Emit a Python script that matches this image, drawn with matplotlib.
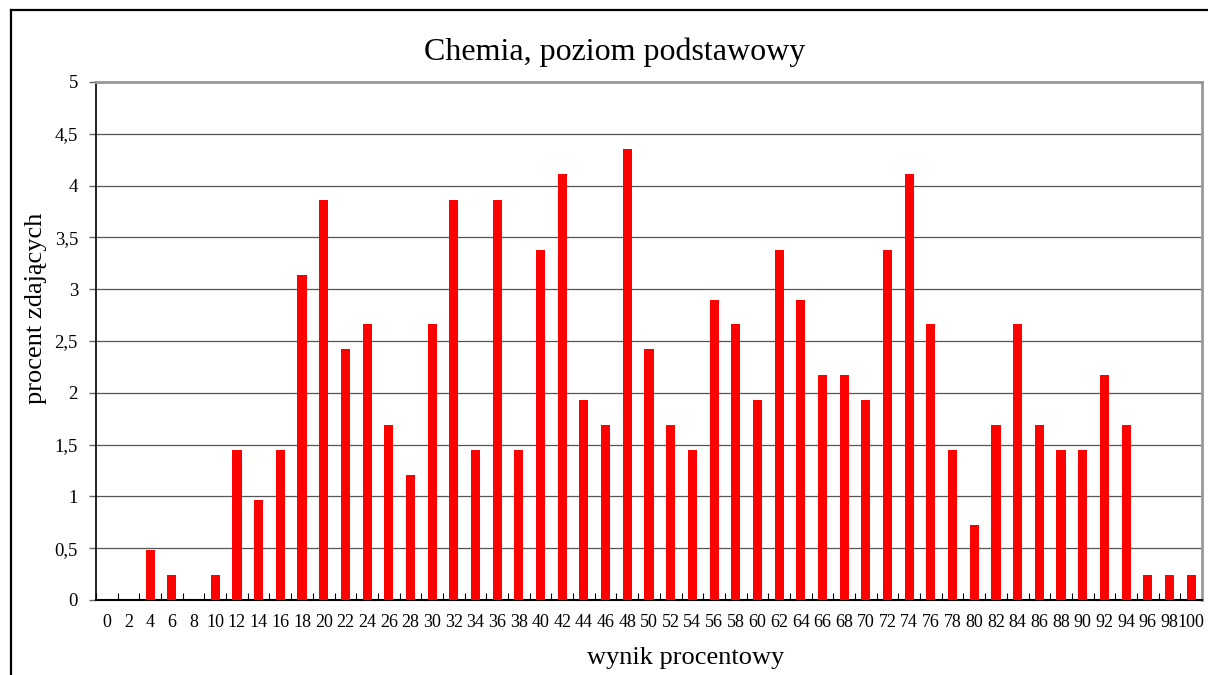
import matplotlib
matplotlib.use("Agg")
import matplotlib.pyplot as plt
from matplotlib.lines import Line2D

categories = [str(v) for v in range(0, 101, 2)]
values = [0, 0, 0.48, 0.24, 0, 0.24, 1.45, 0.97, 1.45, 3.14,
          3.86, 2.42, 2.66, 1.69, 1.21, 2.66, 3.86, 1.45, 3.86, 1.45,
          3.38, 4.11, 1.93, 1.69, 4.35, 2.42, 1.69, 1.45, 2.90, 2.66,
          1.93, 3.38, 2.90, 2.17, 2.17, 1.93, 3.38, 4.11, 2.66, 1.45,
          0.72, 1.69, 2.66, 1.69, 1.45, 1.45, 2.17, 1.69, 0.24, 0.24,
          0.24]
y_ticks = [0, 0.5, 1, 1.5, 2, 2.5, 3, 3.5, 4, 4.5, 5]
y_tick_labels = ["0", "0,5", "1", "1,5", "2", "2,5", "3", "3,5", "4", "4,5", "5"]

plt.rcParams['font.family'] = ['Liberation Serif', 'DejaVu Serif']

W, H = 1208, 675
fig = plt.figure(figsize=(W / 100, H / 100), dpi=100)

# outer chart border (left and top visible)
fig.add_artist(Line2D([10.5 / W, 10.5 / W], [0, 1 - 10 / H], transform=fig.transFigure,
                      color='black', lw=1.6))
fig.add_artist(Line2D([10.5 / W, 1.0], [1 - 10 / H, 1 - 10 / H], transform=fig.transFigure,
                      color='black', lw=1.6))

ax = fig.add_axes([96 / W, 1 - 600 / H, (1202 - 96) / W, (600 - 82) / H])
x = list(range(len(categories)))
ax.bar(x, values, width=0.42, color='#ff0000', zorder=3)

ax.set_xlim(-0.5, len(categories) - 0.5)
ax.set_ylim(0, 5)
ax.set_yticks(y_ticks)
ax.set_yticklabels(y_tick_labels, fontsize=13.5)
ax.set_xticks(x)
ax.set_xticklabels(categories, fontsize=13)
ax.tick_params(axis='x', length=0, pad=10)
ax.tick_params(axis='y', length=5, width=1, color='#666666', pad=8)
ax.set_xticks([i + 0.5 for i in range(-1, len(categories))], minor=True)
ax.tick_params(axis='x', which='minor', direction='in', length=5, width=0.8, color='black')
ax.tick_params(axis='y', which='minor', length=0)

ax.grid(axis='y', color='#555555', lw=0.9, zorder=1)
for s in ['top', 'right']:
    ax.spines[s].set_color('#999999')
    ax.spines[s].set_linewidth(2)
ax.spines['left'].set_color('black')
ax.spines['left'].set_linewidth(1.2)
ax.spines['bottom'].set_color('black')
ax.spines['bottom'].set_linewidth(1.5)

fig.text(615 / W, 1 - 52 / H, "Chemia, poziom podstawowy", ha='center', va='center', fontsize=23)
fig.text(686 / W, 1 - 658 / H, "wynik procentowy", ha='center', va='center', fontsize=19)
fig.text(36 / W, 1 - 308 / H, "procent zdających", ha='center', va='center', fontsize=19, rotation=90)

fig.savefig("out.png", dpi=100)
